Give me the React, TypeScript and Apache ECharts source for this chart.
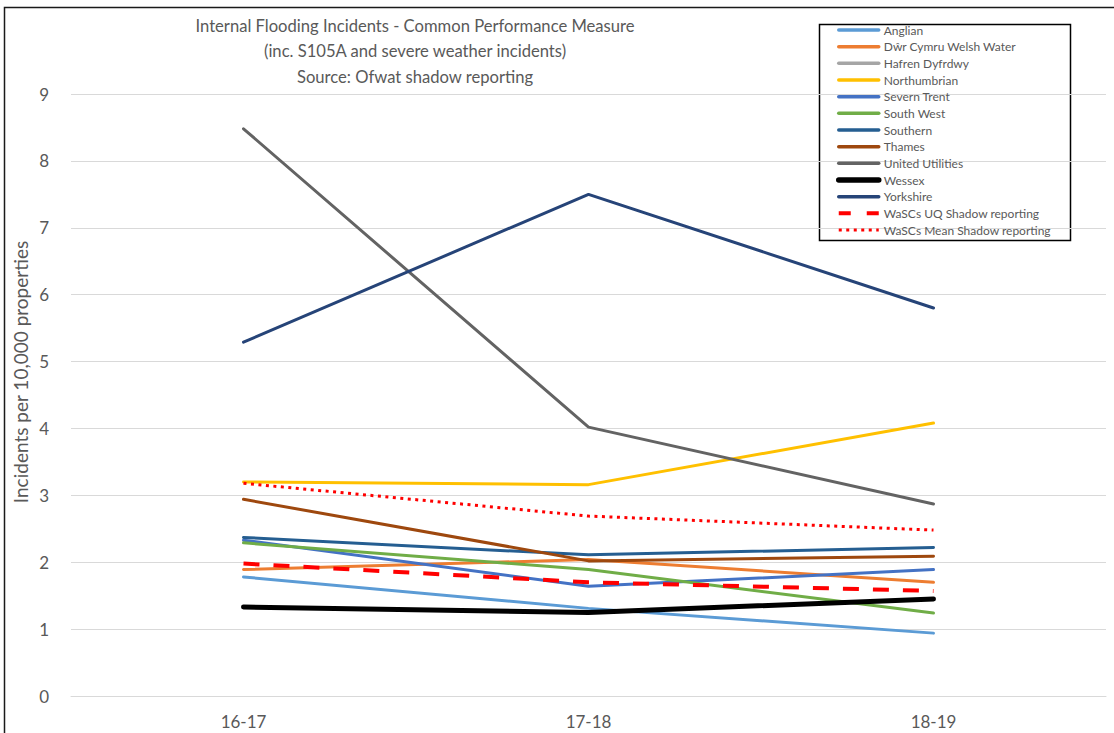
import React, { useEffect, useRef } from "react";
import * as echarts from "echarts";

const categories = ["16-17", "17-18", "18-19"];
const yTicks = [0, 1, 2, 3, 4, 5, 6, 7, 8, 9];

const anglian = [1.78, 1.31, 0.94];
const welsh = [1.89, 2.04, 1.7];
const hafren: (number | null)[] = [null, null, null];
const northumbrian = [3.2, 3.16, 4.08];
const severnTrent = [2.33, 1.64, 1.89];
const southWest = [2.29, 1.89, 1.24];
const southern = [2.37, 2.11, 2.22];
const thames = [2.94, 2.02, 2.09];
const unitedUtilities = [8.48, 4.02, 2.87];
const wessex = [1.33, 1.25, 1.45];
const yorkshire = [5.29, 7.5, 5.8];
const uq = [1.98, 1.7, 1.57];
const mean = [3.18, 2.69, 2.48];

const seriesNames = [
  "Anglian",
  "Dŵr Cymru Welsh Water",
  "Hafren Dyfrdwy",
  "Northumbrian",
  "Severn Trent",
  "South West",
  "Southern",
  "Thames",
  "United Utilities",
  "Wessex",
  "Yorkshire",
  "WaSCs UQ Shadow reporting",
  "WaSCs Mean Shadow reporting",
];
const seriesData = [
  anglian, welsh, hafren, northumbrian, severnTrent, southWest, southern,
  thames, unitedUtilities, wessex, yorkshire, uq, mean,
];
const seriesColors = [
  "#5B9BD5", "#ED7D31", "#A5A5A5", "#FFC000", "#4472C4", "#70AD47", "#255E91",
  "#9E480E", "#636363", "#000000", "#264478", "#FF0000", "#FF0000",
];

const FONT = "Lato, 'Open Sans', sans-serif";

function styleFor(name: string) {
  let width = 3;
  let type: any = "solid";
  let cap: any = "round";
  if (name === "Wessex") width = 5;
  if (name === "WaSCs UQ Shadow reporting") {
    width = 4;
    type = [16, 14];
    cap = "butt";
  }
  if (name === "WaSCs Mean Shadow reporting") {
    width = 3;
    type = [3, 4.5];
    cap = "butt";
  }
  return { width, type, cap };
}

export default function App() {
  const ref = useRef<HTMLDivElement>(null);
  useEffect(() => {
    if (!ref.current) return;
    const chart = echarts.init(ref.current, undefined, { renderer: "svg" });
    const series = seriesNames.map((name, i) => {
      const s = styleFor(name);
      return {
        name,
        type: "line",
        data: seriesData[i],
        symbol: "none",
        color: seriesColors[i],
        lineStyle: { width: s.width, type: s.type, color: seriesColors[i], cap: s.cap },
        z: name === "Wessex" ? 3 : 2,
      };
    });
    const legendData = seriesNames.map((name, i) => {
      const s = styleFor(name);
      return {
        name,
        lineStyle: {
          width: name === "Wessex" ? 5.5 : name.startsWith("WaSCs") ? s.width : 3.5,
          type: name === "WaSCs UQ Shadow reporting" ? [12, 16] : s.type,
          color: seriesColors[i],
          cap: s.cap,
        },
      };
    });
    chart.setOption({
      animation: false,
      backgroundColor: "#ffffff",
      textStyle: { fontFamily: FONT },
      title: {
        text:
          "Internal Flooding Incidents - Common Performance Measure\n(inc. S105A and severe weather incidents)\nSource: Ofwat shadow reporting",
        left: 410,
        top: 8,
        textAlign: "center",
        textStyle: {
          fontFamily: FONT,
          fontSize: 16.6,
          fontWeight: "normal",
          color: "#595959",
          lineHeight: 25.5,
        },
      },
      legend: {
        orient: "vertical",
        left: 836,
        top: 24,
        itemWidth: 40,
        itemHeight: 12,
        itemGap: 4.67,
        itemTextGap: 5,
        padding: 0,
        data: legendData,
        itemStyle: { opacity: 0 },
        textStyle: { fontFamily: FONT, fontSize: 12, color: "#595959" },
      },
      grid: { left: 71, right: 8, top: 94, bottom: 37, containLabel: false },
      xAxis: {
        type: "category",
        data: categories,
        boundaryGap: true,
        axisLine: { show: true, lineStyle: { color: "#D9D9D9", width: 1 } },
        axisTick: { show: false },
        axisLabel: { color: "#595959", fontSize: 17, fontFamily: FONT, margin: 17 },
      },
      yAxis: {
        type: "value",
        min: yTicks[0],
        max: yTicks[yTicks.length - 1],
        interval: 1,
        axisLine: { show: false },
        axisTick: { show: false },
        splitLine: { lineStyle: { color: "#D9D9D9", width: 1 } },
        axisLabel: { color: "#595959", fontSize: 17, fontFamily: FONT, margin: 22 },
      },
      graphic: [
        {
          type: "rect",
          shape: { x: 4.5, y: 7.5, width: 1200, height: 800 },
          style: { fill: "none", stroke: "#1a1a1a", lineWidth: 1.5 },
          silent: true,
          z: 0,
        },
        {
          type: "rect",
          shape: { x: 819.5, y: 24.5, width: 251, height: 216 },
          style: { fill: "#ffffff", stroke: "#000000", lineWidth: 1.5 },
          silent: true,
          z: -1,
        },
        {
          type: "text",
          x: 20,
          y: 372,
          rotation: Math.PI / 2,
          style: {
            text: "Incidents per 10,000 properties",
            fill: "#595959",
            font: "19px Lato, 'Open Sans', sans-serif",
            textAlign: "center",
            textVerticalAlign: "middle",
          },
          silent: true,
        },
      ],
      series,
    });
    return () => chart.dispose();
  }, []);
  return (
    <div
      ref={ref}
      style={{ position: "absolute", left: 0, top: 0, width: 1114, height: 733 }}
    />
  );
}
